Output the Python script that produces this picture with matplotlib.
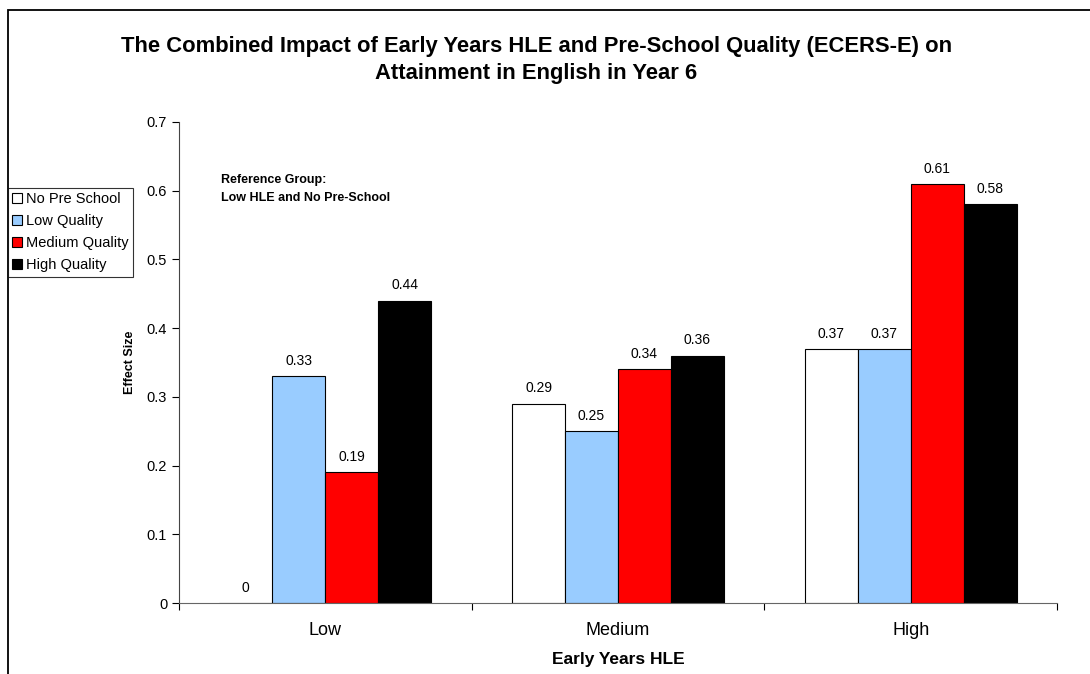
import numpy as np
import matplotlib.pyplot as plt
from matplotlib.patches import Rectangle

plt.rcParams['font.family'] = ['Liberation Sans', 'DejaVu Sans']

categories = ["Low", "Medium", "High"]
series_names = ["No Pre School", "Low Quality", "Medium Quality", "High Quality"]
no_pre_school = [0.0, 0.29, 0.37]
low_quality = [0.33, 0.25, 0.37]
medium_quality = [0.19, 0.34, 0.61]
high_quality = [0.44, 0.36, 0.58]
colors = ["#FFFFFF", "#99CCFF", "#FF0000", "#000000"]


def plot_chart():

    fig = plt.figure(figsize=(10.9, 6.74), dpi=100)
    ax = fig.add_axes([0.1642, 0.1053, 0.8055, 0.7137])

    # outer chart border (cut off on right and bottom like the original)
    fig.patches.append(Rectangle((8 / 1090, -0.1), 1.2, 1 - 10 / 674 + 0.1,
                                 transform=fig.transFigure, fill=False,
                                 edgecolor="black", linewidth=1.3))

    x = np.arange(len(categories))
    width = 0.181
    all_values = [no_pre_school, low_quality, medium_quality, high_quality]

    for i, values in enumerate(all_values):
        pos = x + (i - 1.5) * width
        bars = ax.bar(pos, values, width, color=colors[i],
                      edgecolor="black", linewidth=0.8, label=series_names[i])
        for rect, v in zip(bars, values):
            ax.text(rect.get_x() + rect.get_width() / 2, v + 0.012,
                    "%g" % v, ha="center", va="bottom", fontsize=10)

    ax.set_xlim(-0.5, 2.5)
    ax.set_ylim(0, 0.7)
    ax.set_yticks(np.arange(0, 0.71, 0.1))
    ax.set_yticklabels(["0", "0.1", "0.2", "0.3", "0.4", "0.5", "0.6", "0.7"])
    ax.tick_params(axis="y", direction="out", length=5, labelsize=10.5)

    ax.set_xticks([-0.5, 0.5, 1.5, 2.5])
    ax.set_xticklabels([])
    ax.tick_params(axis="x", which="major", direction="out", length=5)
    ax.set_xticks(x, minor=True)
    ax.set_xticklabels(categories, minor=True, fontsize=13)
    ax.tick_params(axis="x", which="minor", length=0, pad=14)

    ax.spines["right"].set_visible(False)
    ax.spines["top"].set_visible(False)
    ax.spines["left"].set_color("#444444")
    ax.spines["bottom"].set_color("#666666")

    ax.set_ylabel("Effect Size", fontsize=9, fontweight="bold", labelpad=8)
    ax.set_xlabel("Early Years HLE", fontsize=12.5, fontweight="bold", labelpad=9)

    fig.text(0.492, 0.911,
             "The Combined Impact of Early Years HLE and Pre-School Quality (ECERS-E) on\n"
             "Attainment in English in Year 6",
             ha="center", va="center", fontsize=15.8, fontweight="bold",
             linespacing=1.4)

    ax.text(0.048, 0.892, "Reference Group:\nLow HLE and No Pre-School",
            transform=ax.transAxes, ha="left", va="top", fontsize=9,
            fontweight="bold", linespacing=1.65)

    leg = fig.legend(loc="upper left", bbox_to_anchor=(8 / 1090, 1 - 188 / 674),
                     fontsize=10.5, frameon=True, fancybox=False,
                     handlelength=0.65, handleheight=0.65, handletextpad=0.25,
                     borderpad=0.3, labelspacing=0.55, borderaxespad=0)
    leg.get_frame().set_edgecolor("black")
    leg.get_frame().set_linewidth(0.8)

    fig.savefig("out.png", dpi=100)


if __name__ == "__main__":
    plot_chart()
